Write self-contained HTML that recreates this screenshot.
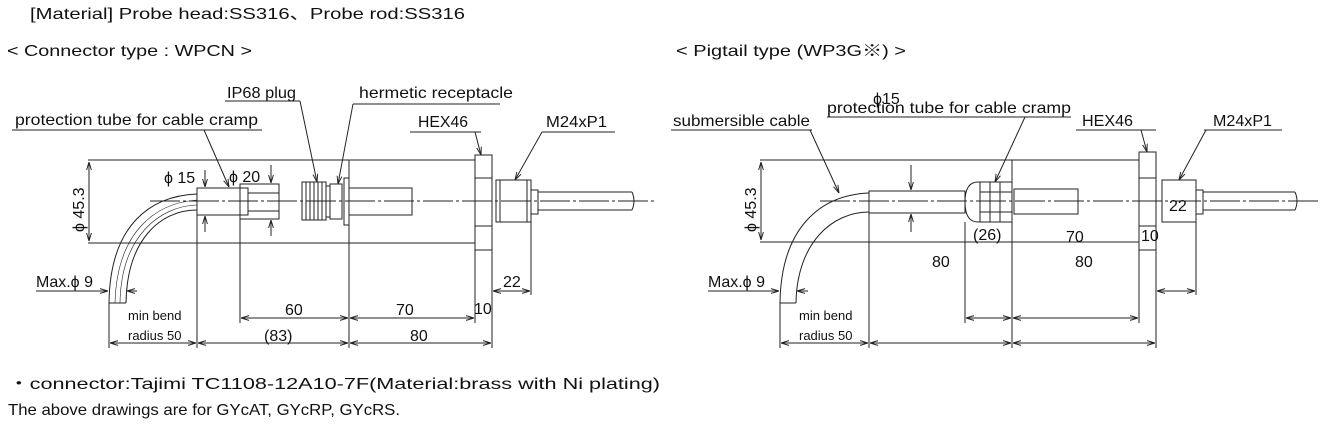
<!DOCTYPE html>
<html><head><meta charset="utf-8"><style>
html,body{margin:0;padding:0;background:#fff;}
svg{display:block;font-family:"Liberation Sans","Noto Sans CJK JP",sans-serif;}
</style></head><body>
<svg width="1323" height="434" viewBox="0 0 1323 434" xmlns="http://www.w3.org/2000/svg">
<defs>
<marker id="a" viewBox="0 0 10 10" refX="10" refY="5" markerWidth="8" markerHeight="8" orient="auto-start-reverse"><path d="M0,2 L10,5 L0,8" fill="none" stroke="#222" stroke-width="1.2"/></marker>
</defs>
<g fill="#111" font-size="16" lengthAdjust="spacingAndGlyphs">
<text x="30" y="19" textLength="435" lengthAdjust="spacingAndGlyphs">[Material] Probe head:SS316、Probe rod:SS316</text>
<text x="7" y="56" textLength="245" lengthAdjust="spacingAndGlyphs">&lt; Connector type : WPCN &gt;</text>
<text x="676" y="56" textLength="230" lengthAdjust="spacingAndGlyphs">&lt; Pigtail type (WP3G※) &gt;</text>
<text x="8" y="389" textLength="652" lengthAdjust="spacingAndGlyphs">・connector:Tajimi TC1108-12A10-7F(Material:brass with Ni plating)</text>
<text x="8" y="415" textLength="392" lengthAdjust="spacingAndGlyphs">The above drawings are for GYcAT, GYcRP, GYcRS.</text>
</g>
<g stroke="#222" stroke-width="1" fill="none">
<!-- LEFT -->
<line x1="88" y1="160" x2="475" y2="160"/><line x1="88" y1="243" x2="475" y2="243"/>
<line x1="89" y1="162" x2="89" y2="241" marker-start="url(#a)" marker-end="url(#a)"/>
<line x1="349" y1="160" x2="349" y2="348"/>
<rect x="344" y="178" width="5" height="47"/>
<rect x="475" y="155" width="17" height="95"/><line x1="475" y1="178" x2="492" y2="178"/><line x1="475" y1="226" x2="492" y2="226"/>
<rect x="496" y="180" width="35" height="42"/><line x1="500" y1="180" x2="500" y2="222"/><line x1="527" y1="180" x2="527" y2="222"/>
<rect x="531" y="190" width="7" height="24"/>
<path d="M538,192 H632 M538,210 H632 M632,192 q4,9 0,18"/>
<rect x="349" y="188" width="63" height="27"/>
<rect x="197" y="188" width="43" height="27"/>
<rect x="240" y="184" width="39" height="35"/><rect x="240" y="188" width="8" height="27"/><line x1="248" y1="193" x2="279" y2="193"/><line x1="248" y1="211" x2="279" y2="211"/>
<rect x="302" y="182" width="24" height="38"/><path d="M306,182 V220 M310,182 V220 M314,182 V220 M318,182 V220 M322,182 V220"/>
<rect x="326" y="186" width="4" height="31"/><rect x="330" y="184" width="12" height="35"/>
<line x1="150" y1="201" x2="655" y2="201" stroke-dasharray="30,3,3,3"/>
<path d="M197,194 C150,196 110,225 109,303 M197,210 C160,210 127,240 126,303 M109,303 H126"/>
<path d="M197,200 C155,203 117,232 115,303 M197,205 C160,206 121,236 120,303" stroke-width="0.6"/>
<line x1="109" y1="303" x2="109" y2="348"/><line x1="197" y1="215" x2="197" y2="348"/><line x1="240" y1="219" x2="240" y2="323"/>
<line x1="492" y1="250" x2="492" y2="348"/><line x1="475" y1="250" x2="475" y2="323"/><line x1="531" y1="222" x2="531" y2="295"/>
<line x1="241" y1="318" x2="348" y2="318" marker-start="url(#a)" marker-end="url(#a)"/>
<line x1="350" y1="318" x2="474" y2="318" marker-start="url(#a)" marker-end="url(#a)"/>
<line x1="110" y1="343" x2="196" y2="343" marker-start="url(#a)" marker-end="url(#a)"/>
<line x1="198" y1="343" x2="348" y2="343" marker-start="url(#a)" marker-end="url(#a)"/>
<line x1="350" y1="343" x2="491" y2="343" marker-start="url(#a)" marker-end="url(#a)"/>
<line x1="493" y1="291" x2="530" y2="291" marker-start="url(#a)" marker-end="url(#a)"/>
<line x1="36" y1="291" x2="108" y2="291" marker-end="url(#a)"/><line x1="137" y1="291" x2="127" y2="291" marker-end="url(#a)"/>
<line x1="205" y1="170" x2="205" y2="187" marker-end="url(#a)"/><line x1="205" y1="232" x2="205" y2="216" marker-end="url(#a)"/>
<line x1="271" y1="165" x2="271" y2="183" marker-end="url(#a)"/><line x1="271" y1="236" x2="271" y2="220" marker-end="url(#a)"/>
<line x1="12" y1="130" x2="262" y2="130"/><line x1="204" y1="130" x2="229" y2="187" marker-end="url(#a)"/>
<line x1="225" y1="101" x2="300" y2="101"/><line x1="300" y1="101" x2="317" y2="182" marker-end="url(#a)"/>
<line x1="353" y1="104" x2="500" y2="104"/><line x1="353" y1="104" x2="338" y2="184" marker-end="url(#a)"/>
<line x1="410" y1="132" x2="481" y2="132"/><line x1="475" y1="132" x2="481" y2="155" marker-end="url(#a)"/>
<line x1="542" y1="132" x2="615" y2="132"/><line x1="542" y1="132" x2="515" y2="180" marker-end="url(#a)"/>
<!-- RIGHT -->
<line x1="760" y1="160" x2="1139" y2="160"/><line x1="760" y1="242" x2="1139" y2="242"/>
<line x1="761" y1="162" x2="761" y2="240" marker-start="url(#a)" marker-end="url(#a)"/>
<line x1="1012" y1="160" x2="1012" y2="348"/>
<rect x="1139" y="152" width="17" height="98"/><line x1="1139" y1="178" x2="1156" y2="178"/><line x1="1139" y1="226" x2="1156" y2="226"/>
<rect x="1162" y="180" width="34" height="42"/><rect x="1196" y="190" width="7" height="24"/>
<path d="M1203,192 H1295 M1203,210 H1295 M1295,192 q4,9 0,18"/>
<rect x="1014" y="189" width="64" height="25"/>
<rect x="869" y="191" width="96" height="22"/>
<path d="M978,182 H1012 V222 H978 Q965,222 965,202 Q965,182 978,182 Z"/>
<path d="M980,182 V222 M990,182 V222 M1000,182 V222 M980,192 H1012 M980,212 H1012"/>
<line x1="820" y1="201" x2="1320" y2="201" stroke-dasharray="30,3,3,3"/>
<path d="M869,193 C820,195 781,228 780,303 M869,212 C833,212 797,242 796,303 M780,303 H796"/>
<line x1="780" y1="303" x2="780" y2="348"/><line x1="869" y1="213" x2="869" y2="348"/><line x1="965" y1="222" x2="965" y2="323"/>
<line x1="1156" y1="250" x2="1156" y2="348"/><line x1="1139" y1="250" x2="1139" y2="323"/><line x1="1196" y1="222" x2="1196" y2="295"/>
<line x1="966" y1="318" x2="1011" y2="318" marker-start="url(#a)" marker-end="url(#a)"/>
<line x1="1013" y1="318" x2="1138" y2="318" marker-start="url(#a)" marker-end="url(#a)"/>
<line x1="781" y1="343" x2="868" y2="343" marker-start="url(#a)" marker-end="url(#a)"/>
<line x1="870" y1="343" x2="1011" y2="343" marker-start="url(#a)" marker-end="url(#a)"/>
<line x1="1013" y1="343" x2="1155" y2="343" marker-start="url(#a)" marker-end="url(#a)"/>
<line x1="1157" y1="291" x2="1195" y2="291" marker-start="url(#a)" marker-end="url(#a)"/>
<line x1="708" y1="291" x2="779" y2="291" marker-end="url(#a)"/><line x1="808" y1="291" x2="797" y2="291" marker-end="url(#a)"/>
<line x1="911" y1="165" x2="911" y2="190" marker-end="url(#a)"/><line x1="911" y1="232" x2="911" y2="214" marker-end="url(#a)"/>
<line x1="671" y1="130" x2="812" y2="130"/><line x1="810" y1="130" x2="839" y2="193" marker-end="url(#a)"/>
<line x1="827" y1="117" x2="1071" y2="117"/><line x1="1025" y1="117" x2="995" y2="182" marker-end="url(#a)"/>
<line x1="1076" y1="130" x2="1156" y2="130"/><line x1="1141" y1="130" x2="1147" y2="152" marker-end="url(#a)"/>
<line x1="1204" y1="130" x2="1282" y2="130"/><line x1="1206" y1="130" x2="1179" y2="180" marker-end="url(#a)"/>
</g>
<g fill="#111" font-size="16">
<text x="15" y="125" textLength="243" lengthAdjust="spacingAndGlyphs">protection tube for cable cramp</text>
<text x="227" y="98" textLength="69" lengthAdjust="spacingAndGlyphs">IP68 plug</text>
<text x="359" y="98" textLength="154" lengthAdjust="spacingAndGlyphs">hermetic receptacle</text>
<text x="418" y="127" textLength="50" lengthAdjust="spacingAndGlyphs">HEX46</text>
<text x="546" y="127" textLength="61" lengthAdjust="spacingAndGlyphs">M24xP1</text>
<text x="164" y="183">ϕ 15</text><text x="229" y="182">ϕ 20</text>
<text transform="translate(84,232) rotate(-90)">ϕ 45.3</text>
<text x="36" y="287">Max.ϕ 9</text>
<text x="285" y="315">60</text><text x="396" y="315">70</text><text x="474" y="314">10</text>
<text x="503" y="287">22</text>
<text x="264" y="341">(83)</text><text x="410" y="341">80</text>
<text x="128" y="320" font-size="13">min bend</text><text x="128" y="340" font-size="13">radius 50</text>
<text x="673" y="126" textLength="137" lengthAdjust="spacingAndGlyphs">submersible cable</text>
<text x="873" y="104">ϕ15</text>
<text x="827" y="113" textLength="244" lengthAdjust="spacingAndGlyphs">protection tube for cable cramp</text>
<text x="1082" y="126" textLength="51" lengthAdjust="spacingAndGlyphs">HEX46</text>
<text x="1213" y="126" textLength="59" lengthAdjust="spacingAndGlyphs">M24xP1</text>
<text transform="translate(756,232) rotate(-90)">ϕ 45.3</text>
<text x="708" y="287">Max.ϕ 9</text>
<text x="973" y="240">(26)</text><text x="1066" y="242">70</text><text x="1141" y="241">10</text>
<text x="1169" y="211">22</text>
<text x="932" y="267">80</text><text x="1075" y="267">80</text>
<text x="799" y="320" font-size="13">min bend</text><text x="799" y="340" font-size="13">radius 50</text>
</g>
</svg>
</body></html>
